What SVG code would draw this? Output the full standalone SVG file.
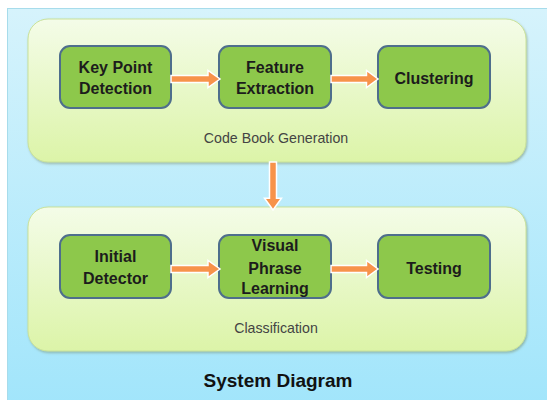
<svg xmlns="http://www.w3.org/2000/svg" width="547" height="400" viewBox="0 0 547 400">
  <defs>
    <linearGradient id="bg" x1="0" y1="0" x2="0" y2="1">
      <stop offset="0" stop-color="#d6f3fc"/>
      <stop offset="1" stop-color="#a1e5fb"/>
    </linearGradient>
    <linearGradient id="panel" x1="0" y1="0" x2="0" y2="1">
      <stop offset="0" stop-color="#f4fce8"/>
      <stop offset="1" stop-color="#dcf4a8"/>
    </linearGradient>
    <filter id="shadow" x="-5%" y="-5%" width="110%" height="115%">
      <feDropShadow dx="1" dy="1.5" stdDeviation="1.2" flood-color="#6a7a50" flood-opacity="0.45"/>
    </filter>
    <polygon id="harrow" points="0,-3.5 37,-3.5 37,-8.5 49,0 37,8.5 37,3.5 0,3.5"/>
  </defs>
  <style>
    .panel { fill: url(#panel); stroke: #c9e29a; stroke-width: 1; }
    .node rect { fill: #8dc84b; stroke: #4e6e8c; stroke-width: 2; }
    .node text { font-family: "Liberation Sans", Arial, sans-serif; font-weight: bold; font-size: 16px; fill: #1c1c1c; text-anchor: middle; }
    .label { font-family: "Liberation Sans", Arial, sans-serif; font-size: 14.2px; fill: #444; text-anchor: middle; }
    .title { font-family: "Liberation Sans", Arial, sans-serif; font-weight: bold; font-size: 19px; fill: #111; text-anchor: middle; }
    .arrow { fill: #f7934a; stroke: #ffffff; stroke-width: 1.5; stroke-linejoin: miter; }
  </style>

  <rect x="7.5" y="8.5" width="560" height="400" fill="url(#bg)" stroke="#a7dceb" stroke-width="1"/>

  <g id="panel-codebook">
    <rect class="panel" x="28" y="19" width="498" height="143" rx="20" filter="url(#shadow)"/>
    <text class="label" x="276" y="143">Code Book Generation</text>
  </g>
  <g id="panel-classification">
    <rect class="panel" x="28" y="207" width="498" height="144" rx="20" filter="url(#shadow)"/>
    <text class="label" x="276" y="333">Classification</text>
  </g>

  <g id="node-keypoint" class="node">
    <rect x="60" y="46" width="111" height="62" rx="10"/>
    <text x="115.5" y="73">Key Point</text>
    <text x="115.5" y="94">Detection</text>
  </g>
  <g id="node-feature" class="node">
    <rect x="219" y="46" width="112" height="62" rx="10"/>
    <text x="275" y="73">Feature</text>
    <text x="275" y="94">Extraction</text>
  </g>
  <g id="node-clustering" class="node">
    <rect x="378" y="46" width="112" height="62" rx="10"/>
    <text x="434" y="84">Clustering</text>
  </g>

  <g id="node-initial" class="node">
    <rect x="60" y="235" width="111" height="63" rx="10"/>
    <text x="115.5" y="262">Initial</text>
    <text x="115.5" y="284">Detector</text>
  </g>
  <g id="node-visual" class="node">
    <rect x="219" y="235" width="112" height="63" rx="10"/>
    <text x="275" y="251">Visual</text>
    <text x="275" y="274">Phrase</text>
    <text x="275" y="294">Learning</text>
  </g>
  <g id="node-testing" class="node">
    <rect x="378" y="235" width="112" height="63" rx="10"/>
    <text x="434" y="274">Testing</text>
  </g>

  <g id="connectors">
    <use href="#harrow" class="arrow" transform="translate(171,79)"/>
    <use href="#harrow" class="arrow" transform="translate(331,79) scale(0.96,1)"/>
    <use href="#harrow" class="arrow" transform="translate(171,269)"/>
    <use href="#harrow" class="arrow" transform="translate(331,269) scale(0.96,1)"/>
    <use href="#harrow" class="arrow" transform="translate(273,162) rotate(90) scale(0.98,1)"/>
  </g>

  <text class="title" x="278" y="387">System Diagram</text>
</svg>
